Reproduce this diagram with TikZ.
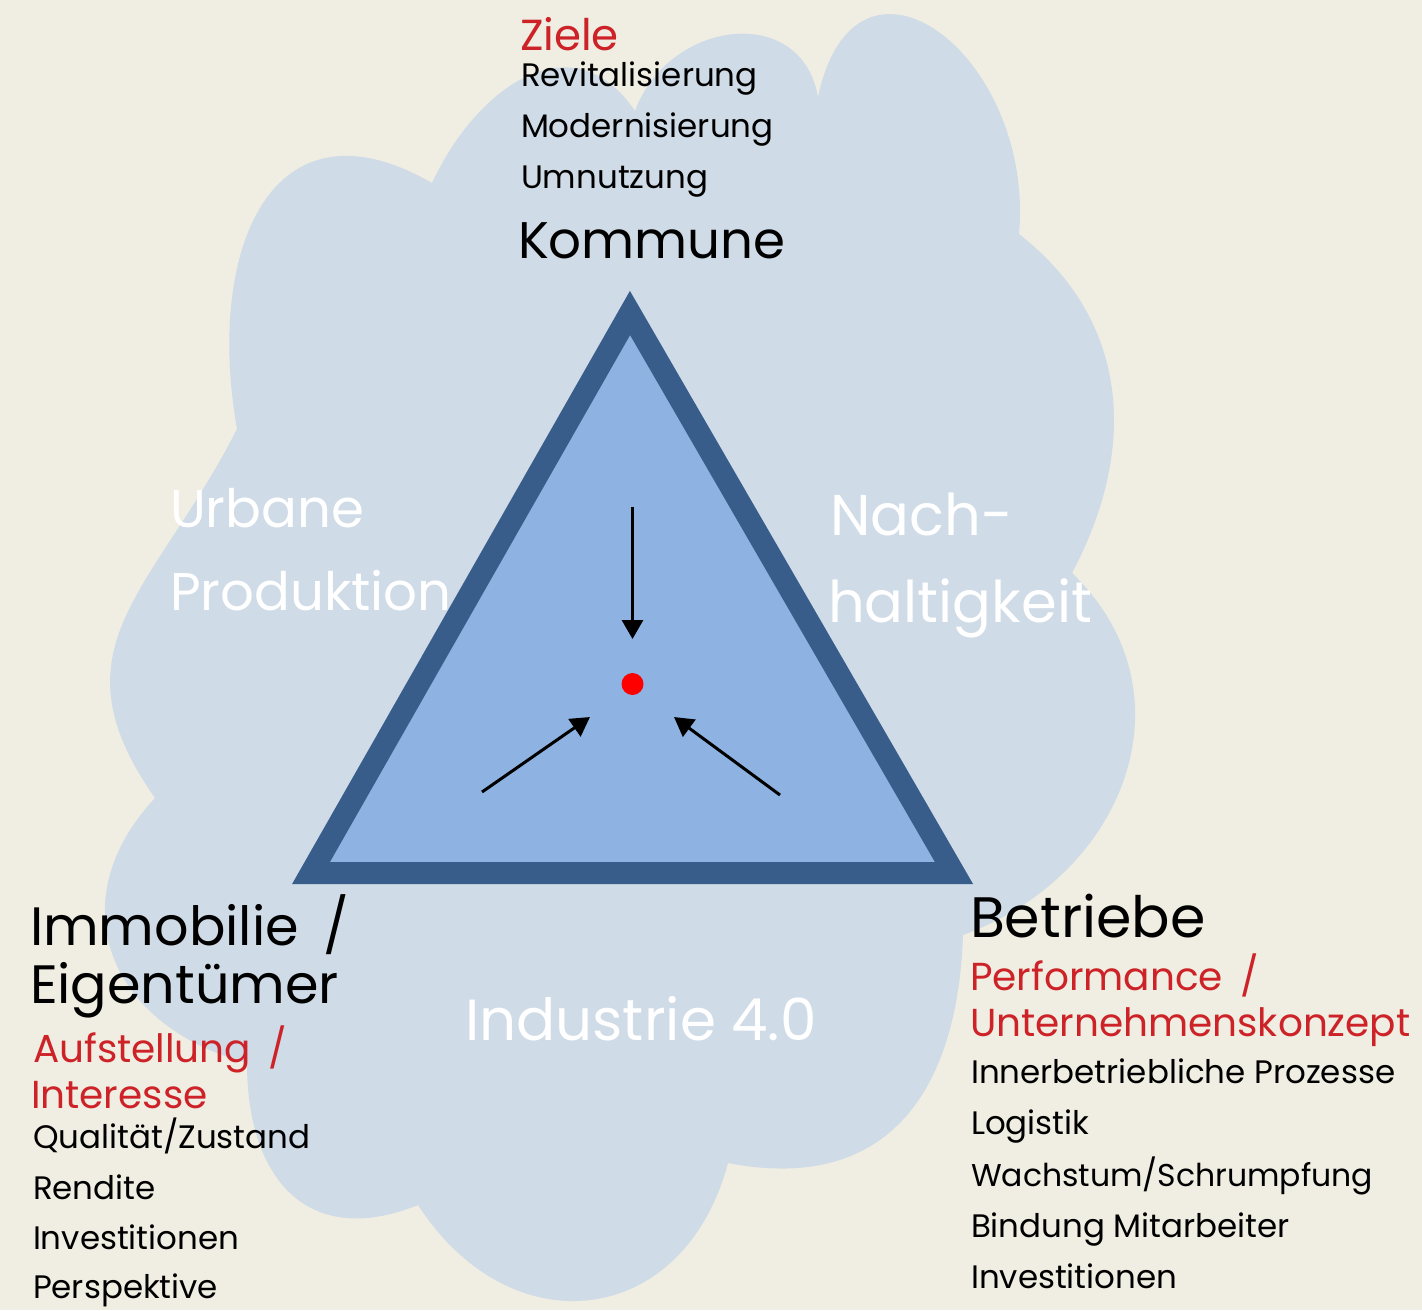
\documentclass[tikz,border=0pt]{standalone}
\usepackage{fontspec}
\setmainfont{Poppins}
\usetikzlibrary{arrows.meta}
\definecolor{bg}{RGB}{240,238,226}
\definecolor{cloudc}{RGB}{207,219,231}
\definecolor{trifill}{RGB}{142,179,226}
\definecolor{tristroke}{RGB}{56,93,138}
\definecolor{redtxt}{RGB}{205,35,40}
\begin{document}
\begin{tikzpicture}[x=1pt,y=1pt,
  txt/.style={anchor=base west, inner sep=0pt, outer sep=0pt},
  small/.style={txt, text=black, font=\fontsize{32.5}{32.5}\selectfont},
  head/.style={txt, text=black, font=\fontsize{54}{54}\selectfont},
  redsub/.style={txt, text=redtxt, font=\fontsize{39}{39}\selectfont},
  wtxt/.style={txt, text=white, font=\fontsize{56}{56}\selectfont},
  arr/.style={line width=3pt, -{Triangle[length=19pt,width=21pt]}}]
\fill[bg] (0,0) rectangle (1422,-1310);
\useasboundingbox (0,0) rectangle (1422,-1310);
% cloud
\fill[cloudc] (155,-798) to[out=125,in=243,looseness=1.25] (237,-429)
 to[out=100,in=150,looseness=1.5] (432,-183)
 to[out=65,in=124,looseness=1.3] (635,-111)
 to[out=70,in=100,looseness=1.35] (818,-97)
 to[out=78,in=85,looseness=1.9] (1019,-234)
 to[out=-38,in=62,looseness=1.05] (1072,-573)
 to[out=-44,in=20,looseness=1.17] (963,-935)
 to[out=-92,in=-11,looseness=1.25] (728,-1163)
 to[out=-105,in=-57,looseness=1.4] (418,-1205)
 to[out=202,in=270,looseness=1.35] (247,-1063)
 to[out=165,in=227,looseness=1.3] (155,-798) -- cycle;
% triangle
\draw[draw=tristroke, fill=trifill, line width=22pt, line join=miter]
  (630,-313) -- (311,-873) -- (954,-873) -- cycle;
% centre dot and arrows
\node[circle, fill=red, minimum size=22pt, inner sep=0pt] (dot) at (632.5,-684) {};
\coordinate (topS) at (632.5,-507);
\coordinate (topE) at (632.5,-639);
\coordinate (leftS) at (482,-792);
\coordinate (leftE) at (590,-717);
\coordinate (rightS) at (780,-795);
\coordinate (rightE) at (674,-717);
\draw[arr] (topS) -- (topE);
\draw[arr] (leftS) -- (leftE);
\draw[arr] (rightS) -- (rightE);
% top labels
\node[txt, text=redtxt, font=\fontsize{43.5}{43.5}\selectfont] (ziele) at (520,-50) {Ziele};
\node[small] (revit) at (521,-86) {Revitalisierung};
\node[small] (modern) at (521,-137) {Modernisierung};
\node[small] (umnutz) at (521,-188) {Umnutzung};
\node[txt, text=black, font=\fontsize{51.5}{51.5}\selectfont] (kommune) at (518,-258) {Kommune};
% left labels
\node[head] (immo) at (30,-945) {Immobilie\hspace{0.45em}/};
\node[head] (eigen) at (30,-1003) {Eigentümer};
\node[redsub] (aufst) at (33,-1062) {Aufstellung\hspace{0.45em}/};
\node[redsub] (inter) at (31,-1108) {Interesse};
\node[small] (quali) at (33,-1148) {Qualität/Zustand};
\node[small] (rendite) at (33,-1199) {Rendite};
\node[small] (invl) at (33,-1249) {Investitionen};
\node[small] (persp) at (33,-1298) {Perspektive};
% right labels
\node[txt, text=black, font=\fontsize{57}{57}\selectfont] (betr) at (970,-937) {Betriebe};
\node[redsub] (perf) at (970,-990) {Performance\hspace{0.45em}/};
\node[redsub] (untern) at (970,-1036) {Unternehmenskonzept};
\node[small] (inner) at (971,-1083) {Innerbetriebliche Prozesse};
\node[small] (logi) at (971,-1134) {Logistik};
\node[small, font=\fontsize{31.5}{31.5}\selectfont] (wachs) at (971,-1186) {Wachstum/Schrumpfung};
\node[small] (bind) at (971,-1237) {Bindung Mitarbeiter};
\node[small] (invr) at (971,-1288) {Investitionen};
% white theme labels
\node[wtxt, font=\fontsize{53}{53}\selectfont] (urb) at (170,-527) {Urbane};
\node[wtxt, font=\fontsize{53}{53}\selectfont] (prod) at (170,-610) {Produktion};
\node[wtxt, font=\fontsize{57.5}{57.5}\selectfont] (nach) at (830,-535) {Nach-};
\node[wtxt, font=\fontsize{57.5}{57.5}\selectfont] (halt) at (828,-622) {haltigkeit};
\node[wtxt, font=\fontsize{58}{58}\selectfont] (ind) at (465,-1040) {Industrie 4.0};
\end{tikzpicture}
\end{document}
